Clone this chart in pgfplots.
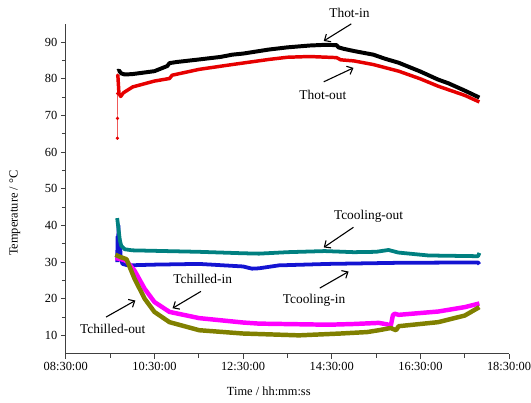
\documentclass[border=0pt]{standalone}
\usepackage{pgfplots}
\pgfplotsset{compat=1.18}
\usetikzlibrary{calc,arrows.meta}
\usepackage{fontspec}
\setmainfont{Liberation Serif}
\definecolor{cteal}{RGB}{0,128,128}
\definecolor{cblue}{RGB}{20,20,210}
\definecolor{cmag}{RGB}{255,0,255}
\definecolor{colive}{RGB}{128,128,0}
\definecolor{cred}{RGB}{230,0,0}
\begin{document}
\begin{tikzpicture}[font=\fontsize{12.5}{15}\selectfont]
\begin{axis}[
  scale only axis, width=445bp, height=331bp,
  xmin=8.5, xmax=18.5, ymin=5, ymax=95,
  axis x line=bottom, axis y line=left,
  axis line style={-, line width=1pt, black!75},
  tick style={line width=0.8pt, black!75},
  tick align=outside, major tick length=5bp, minor tick length=4bp,
  xtick={8.5,10.5,12.5,14.5,16.5,18.5},
  xticklabels={08:30:00,10:30:00,12:30:00,14:30:00,16:30:00,18:30:00},
  minor x tick num=1,
  ytick={10,20,30,40,50,60,70,80,90},
  minor y tick num=1,
  /pgf/number format/assume math mode=true,
  tick label style={font=\fontsize{12.5}{15}\selectfont},
  label style={font=\fontsize{12.5}{15}\selectfont},
  xlabel={Time / hh:mm:ss},
  ylabel={Temperature / °C},
  xlabel style={at={(rel axis cs:0.458,0)}, anchor=center, yshift=-38bp},
  ylabel style={at={(rel axis cs:0,0.426)}, anchor=center, rotate=0, yshift=51bp},
  clip=false,
]
% Thot-out start (thin with marks)
\addplot[cred, line width=0.5pt, mark=*, mark size=1.4pt] coordinates {
(9.665,63.8)(9.667,69.2)(9.669,76)(9.671,81)};
% Thot-out
\addplot[cred, line width=3.5pt, line join=round] coordinates {
(9.675,81)(9.70,76)(9.74,75.2)(9.80,76.2)(10.01,77.8)(10.5,79.4)(10.84,80.1)(10.9,81.0)(11.51,82.6)(12.25,83.9)(13.08,85.3)(13.5,85.9)(14.0,86.1)(14.61,85.8)(14.7,85.2)(15.0,84.9)(15.44,83.9)(16.01,82.1)(16.5,80.0)(16.9,78.0)(17.5,75.5)(17.83,73.7)};
% Thot-in
\addplot[black, line width=4pt, line join=round] coordinates {
(9.67,82.1)(9.70,82.3)(9.75,81.5)(9.83,81.2)(10.0,81.3)(10.5,82.1)(10.79,83.5)(10.84,84.3)(11.0,84.6)(11.51,85.3)(12.0,86.0)(12.25,86.6)(12.5,86.9)(13.08,88.0)(13.5,88.6)(14.0,89.1)(14.37,89.3)(14.61,89.2)(14.65,88.6)(14.77,88.2)(15.0,87.6)(15.44,86.6)(15.7,85.5)(16.01,84.4)(16.5,82.0)(16.9,79.8)(17.13,78.8)(17.5,76.8)(17.83,74.9)};
% Tcooling-in
\addplot[cblue, line width=3.8pt, line join=round] coordinates {
(9.66,30)(9.67,37)(9.68,32)(9.69,40)(9.70,33)(9.72,36)(9.74,31)(9.78,29.5)(9.9,29.1)(10.5,29.3)(11.5,29.5)(12.5,28.8)(12.7,28.2)(12.86,28.3)(13.31,29.1)(14.43,29.5)(16.0,29.8)(17.8,29.9)(17.83,29.4)};
% Tcooling-out
\addplot[cteal, line width=3.8pt, line join=round] coordinates {
(9.66,42)(9.68,40)(9.70,38)(9.72,36)(9.75,34.5)(9.83,33.5)(10.0,33.2)(11.5,32.8)(12.5,32.4)(12.86,32.3)(13.5,32.7)(14.34,33.0)(15.0,32.7)(15.5,32.8)(15.78,33.3)(16.0,32.6)(16.68,31.8)(17.8,31.6)(17.83,32.5)};
% Tchilled-in
\addplot[cmag, line width=4.5pt, line join=round] coordinates {
(9.62,31.1)(9.75,30.8)(9.87,30.3)(10.05,27.7)(10.28,22.7)(10.5,19.1)(10.84,16.4)(11.51,14.7)(12.5,13.5)(12.86,13.2)(14.43,12.9)(15.0,13.1)(15.56,13.4)(15.75,13.0)(15.83,12.5)(15.88,15.5)(15.92,15.9)(16.01,15.6)(16.9,16.5)(17.5,17.7)(17.83,18.7)};
% Tchilled-out
\addplot[colive, line width=4.5pt, line join=round] coordinates {
(9.62,32.0)(9.75,31.3)(9.87,30.8)(10.05,25.5)(10.28,20.0)(10.5,16.4)(10.84,13.6)(11.51,11.4)(12.5,10.5)(13.76,10.0)(14.7,10.5)(15.3,10.9)(15.56,11.4)(15.83,12.0)(15.95,11.4)(16.01,12.5)(16.9,13.6)(17.5,15.4)(17.83,17.7)};
% annotations
\begin{scope}[font=\fontsize{13.5}{16}\selectfont, every path/.append style={-{Straight Barb[length=5pt,width=9pt]}, line width=1.1pt}]
\node at (axis cs:14.90,98.06) {Thot-in};
\draw (axis cs:14.94,95.0) -- (axis cs:14.32,90.35);
\node at (axis cs:14.30,75.7) {Thot-out};
\draw (axis cs:14.32,79.2) -- (axis cs:14.99,83.0);
\node at (axis cs:15.33,42.6) {Tcooling-out};
\draw (axis cs:14.99,39.5) -- (axis cs:14.32,34.0);
\node at (axis cs:14.10,19.5) {Tcooling-in};
\draw (axis cs:14.23,22.9) -- (axis cs:14.88,27.4);
\node at (axis cs:11.59,25.4) {Tchilled-in};
\draw (axis cs:11.55,22.0) -- (axis cs:10.91,17.4);
\node at (axis cs:9.56,11.8) {Tchilled-out};
\draw (axis cs:9.41,15.0) -- (axis cs:10.07,19.5);
\end{scope}
\coordinate (O) at (rel axis cs:0,0);
\end{axis}
\pgfresetboundingbox
\path[use as bounding box] ($(O)+(-66bp,-49bp)$) rectangle ($(O)+(467bp,355bp)$);
\end{tikzpicture}
\end{document}
